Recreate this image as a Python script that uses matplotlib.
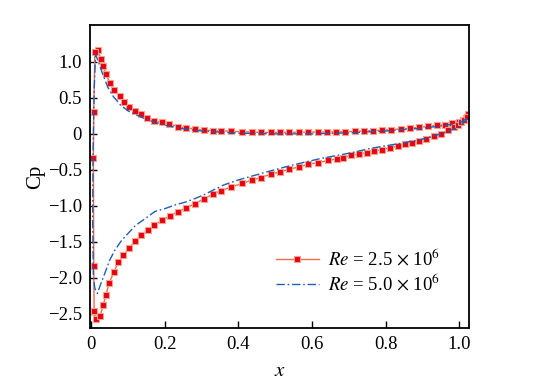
import numpy as np
import matplotlib.pyplot as plt

plt.rcParams['font.family'] = ['Liberation Serif', 'DejaVu Serif']
plt.rcParams['mathtext.fontset'] = 'stix'

# Re = 2.5e6 : pressure side (TE -> LE), then suction side (LE -> TE)
x_re25 = [1.024, 1.018, 1.01, 1.0, 0.98, 0.96, 0.94, 0.915, 0.89, 0.865, 0.84, 0.815,
          0.79, 0.765, 0.74, 0.715, 0.69, 0.665, 0.64, 0.615, 0.59, 0.565, 0.538, 0.513,
          0.488, 0.462, 0.437, 0.41, 0.38, 0.353, 0.332, 0.307, 0.282, 0.257, 0.235,
          0.212, 0.193, 0.17, 0.152, 0.134, 0.119, 0.103, 0.089, 0.077, 0.063, 0.051,
          0.04, 0.032, 0.026, 0.019, 0.01, 0.007, 0.006, 0.007, 0.008, 0.012, 0.024,
          0.033, 0.04, 0.049, 0.062, 0.074, 0.087, 0.103, 0.119, 0.135, 0.153, 0.171,
          0.193, 0.214, 0.235, 0.258, 0.282, 0.307, 0.33, 0.353, 0.38, 0.41, 0.437,
          0.46, 0.488, 0.513, 0.538, 0.565, 0.59, 0.617, 0.643, 0.667, 0.685, 0.705,
          0.726, 0.749, 0.767, 0.79, 0.812, 0.832, 0.853, 0.871, 0.889, 0.91, 0.93,
          0.95, 0.97, 0.985, 0.995, 1.005, 1.013, 1.02]
cp_re25 = [0.27, 0.22, 0.19, 0.16, 0.15, 0.13, 0.12, 0.105, 0.09, 0.08, 0.068, 0.06,
           0.052, 0.045, 0.04, 0.035, 0.03, 0.03, 0.025, 0.025, 0.025, 0.022, 0.02, 0.02,
           0.02, 0.02, 0.025, 0.03, 0.035, 0.043, 0.045, 0.053, 0.067, 0.085, 0.10,
           0.14, 0.16, 0.18, 0.22, 0.28, 0.32, 0.37, 0.45, 0.53, 0.61, 0.71,
           0.83, 0.94, 1.04, 1.16, 1.14, 0.31, -0.33, -1.84, -2.47, -2.57, -2.53,
           -2.38, -2.24, -2.07, -1.92, -1.78, -1.69, -1.59, -1.49, -1.41, -1.34, -1.27,
           -1.20, -1.14, -1.08, -1.03, -0.97, -0.90, -0.84, -0.79, -0.74, -0.69, -0.64,
           -0.61, -0.56, -0.53, -0.49, -0.46, -0.42, -0.40, -0.37, -0.35, -0.33, -0.30,
           -0.28, -0.26, -0.24, -0.22, -0.19, -0.17, -0.14, -0.12, -0.10, -0.07, -0.03,
           0.0, 0.05, 0.09, 0.12, 0.16, 0.19, 0.23]

# Re = 5.0e6
x_re50 = [1.02, 1.0, 0.95, 0.9, 0.85, 0.8, 0.7, 0.6, 0.5, 0.4, 0.3, 0.25, 0.2, 0.15,
          0.12, 0.1, 0.08, 0.06, 0.045, 0.03, 0.02, 0.012, 0.008, 0.005, 0.004, 0.006,
          0.01, 0.017, 0.025, 0.037, 0.05, 0.064, 0.08, 0.092, 0.119, 0.146, 0.173,
          0.2, 0.227, 0.255, 0.282, 0.309, 0.336, 0.36, 0.4, 0.49, 0.55, 0.625, 0.7,
          0.76, 0.83, 0.895, 0.95, 1.0, 1.02]
cp_re50 = [0.22, 0.15, 0.11, 0.08, 0.06, 0.04, 0.015, 0.0, 0.0, 0.01, 0.04, 0.07, 0.12,
           0.2, 0.27, 0.32, 0.4, 0.52, 0.65, 0.85, 1.0, 1.1, 0.6, -0.3, -1.2, -2.0,
           -2.15, -2.22, -2.1, -1.94, -1.76, -1.62, -1.5, -1.43, -1.28, -1.18, -1.08,
           -1.04, -0.99, -0.95, -0.90, -0.84, -0.77, -0.71, -0.64, -0.51, -0.43, -0.34,
           -0.27, -0.20, -0.14, -0.08, 0.0, 0.1, 0.2]

xticks = [0, 0.2, 0.4, 0.6, 0.8, 1.0]
xticklabels = ['0', '0.2', '0.4', '0.6', '0.8', '1.0']
yticks = [-2.5, -2.0, -1.5, -1.0, -0.5, 0, 0.5, 1.0]
yticklabels = ['\u22122.5', '\u22122.0', '\u22121.5', '\u22121.0', '\u22120.5', '0', '0.5', '1.0']

fig = plt.figure(figsize=(5.33, 3.9), dpi=100)
ax = fig.add_axes([0.169, 0.159, 0.711, 0.777])

ax.plot(x_re25, cp_re25, color='#f26a4f', lw=1.0, marker='s', markersize=5,
        markerfacecolor='#e60012', markeredgecolor='#f7a08a', markeredgewidth=0.8,
        label=r'$Re$ = 2.5 $\times$ 10$^6$', zorder=2)
ax.plot(x_re50, cp_re50, color='#1f5fb4', lw=1.0, linestyle=(0, (6, 2, 1.2, 2)),
        label=r'$Re$ = 5.0 $\times$ 10$^6$', zorder=3)

ax.set_xlim(-0.003, 1.026)
ax.set_ylim(-2.7, 1.515)
ax.set_xticks(xticks)
ax.set_xticklabels(xticklabels)
ax.set_yticks(yticks)
ax.set_yticklabels(yticklabels)
ax.tick_params(direction='in', length=5, width=1, labelsize=13.5, pad=6)
for s in ax.spines.values():
    s.set_linewidth(1.3)

ax.set_xlabel(r'$x$', fontsize=15, labelpad=6)
ax.set_ylabel('Cp', fontsize=15, labelpad=2)

ax.legend(loc='upper left', bbox_to_anchor=(0.465, 0.295), frameon=False,
          fontsize=13.5, handlelength=2.3, handletextpad=0.5, labelspacing=0.15,
          borderpad=0)

fig.savefig('out.png', dpi=100)
